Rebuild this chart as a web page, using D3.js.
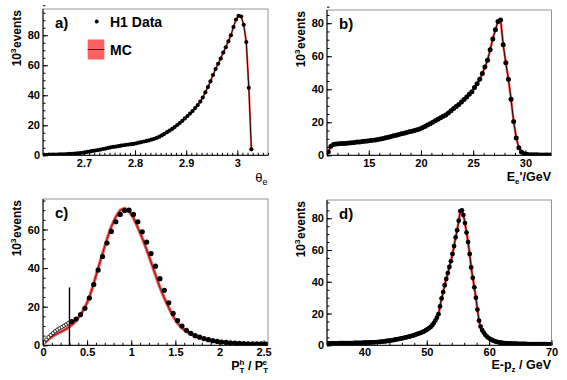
<!DOCTYPE html>
<html><head><meta charset="utf-8">
<script src="https://cdn.jsdelivr.net/npm/d3@7"></script>
<style>
body{margin:0;background:#fff}
svg{display:block;font-family:"Liberation Sans",Arial,Helvetica,sans-serif;font-weight:bold}
</style>
</head><body>
<svg id="chart" width="567" height="380"></svg>
<script>
// ---------------- DATA ----------------
// a) theta_e : bins of 0.005 starting at 2.62 (10^3 events)
const aBinStart = 2.62, aBinWidth = 0.005;
const aData = [0.3,0.3,0.4,0.4,0.5,0.5,0.6,0.6,0.7,0.8,0.9,1.0,1.1,1.3,1.5,1.7,
  2.0,2.3,2.6,2.9,3.2,3.5,3.8,4.2,4.5,4.9,
  5.3,5.6,5.8,6.1,6.4,6.7,7.0,7.2,7.4,7.6,
  8.0,8.4,8.8,9.2,9.6,10.0,10.5,11.0,11.6,12.4,
  13.3,14.3,15.4,16.5,17.6,18.8,20.2,21.5,23.0,24.6,
  26.2,27.8,29.5,31.5,33.5,35.8,38.5,42.0,45.5,49.3,
  53.5,57.5,61.0,64.5,68.5,72.0,76.0,80.0,85.5,90.5,
  93.0,92.5,87.0,75.5,45.0,4.0];
const aXTicks = [2.7,2.8,2.9,3], aXTickLabels = ["2.7","2.8","2.9","3"];
const aYTicks = [0,20,40,60,80];

// b) E_e' : bins of 0.25 GeV starting at 11
const bBinStart = 11, bBinWidth = 0.25;
const bData = [2.0,5.5,6.5,6.8,7.0,7.1,7.2,7.3,7.5,7.6,
  7.8,8.0,8.1,8.3,8.5,8.7,8.9,9.1,9.3,9.6,
  9.9,10.2,10.6,11.0,11.4,11.8,12.2,12.6,13.0,13.4,
  13.8,14.2,14.6,15.0,15.5,16.0,16.7,17.5,18.3,19.1,
  20.0,20.9,21.8,22.7,23.6,24.4,25.6,27.0,28.3,29.5,
  30.8,32.3,33.8,35.3,37.0,38.5,41.0,43.3,46.0,49.5,
  53.5,57.5,64.0,70.5,76.0,81.0,82.0,67.0,56.0,46.0,
  34.0,20.5,10.5,4.5,2.0,1.0,0.6,0.4,0.3,0.3,
  0.3,0.2,0.2,0.2,0.2,0.2];
const bXTicks = [15,20,25,30], bXTickLabels = ["15","20","25","30"];
const bYTicks = [0,20,40,60,80];

// c) PT^h / PT^e
const cOpenStart = 0, cOpenWidth = 0.025;          // excluded region (open markers)
const cOpenData = [1.5,3.0,4.2,5.3,6.3,7.3,8.1,8.8,9.4,10.1,10.8,11.5];
const cBinStart = 0.3, cBinWidth = 0.05;           // selected region (full markers)
const cData = [12.3,13.6,15.9,19.2,24.5,31.5,39.0,46.0,53.0,59.0,
  64.0,67.8,69.8,70.0,67.8,64.0,58.8,53.5,47.5,41.0,
  34.5,28.5,22.0,16.5,12.8,10.0,7.8,6.2,5.0,4.2,
  3.5,2.9,2.4,2.0,1.7,1.5,1.3,1.1,1.0,0.9,
  0.8,0.8,0.7,0.7,0.6];
const cMcStart = 0, cMcWidth = 0.05;
const cMc = [1.5,3.6,5.2,6.4,7.5,8.8,10.5,12.8,15.8,19.5,
  24.8,32.0,40.0,47.5,55.0,61.5,66.5,70.0,71.0,69.5,
  66.0,61.0,55.5,49.5,43.0,36.5,30.0,24.5,19.5,15.0,
  11.5,9.0,7.2,5.8,4.8,4.0,3.3,2.8,2.3,2.0,
  1.7,1.5,1.3,1.1,1.0,0.9,0.8,0.8,0.7,0.7,0.6];
const cCut = 0.3, cCutHeight = 30;
const cXTicks = [0,0.5,1,1.5,2,2.5], cXTickLabels = ["0","0.5","1","1.5","2","2.5"];
const cYTicks = [0,20,40,60];

// d) E - pz : bins of 0.25 GeV starting at 34
const dBinStart = 34, dBinWidth = 0.25;
const dData = [1.2,1.2,1.2,1.2,1.2,1.25,1.25,1.3,
  1.3,1.3,1.3,1.35,1.35,1.35,1.4,1.4,
  1.4,1.45,1.45,1.5,1.5,1.55,1.55,1.6,
  1.6,1.65,1.7,1.75,1.8,1.85,1.9,2.0,
  2.05,2.15,2.25,2.35,2.45,2.55,2.7,2.85,
  3.0,3.15,3.3,3.5,3.7,3.9,4.1,4.3,
  4.5,4.7,4.95,5.2,5.45,5.7,5.95,6.25,
  6.6,6.95,7.3,7.65,8.0,8.4,8.9,9.5,
  10.1,10.8,11.6,12.7,14.0,15.6,17.4,19.6,
  24.5,29.5,33.5,37.8,41.8,45.5,49.3,53.0,
  57.5,62.5,68.0,72.5,78.5,84.5,85.0,82.0,
  77.0,71.0,65.0,57.5,49.0,42.5,36.5,30.0,
  22.5,15.5,11.8,9.6,8.0,6.6,5.5,4.7,
  4.1,3.5,3.0,2.6,2.3,2.0,1.8,1.6,
  1.5,1.4,1.3,1.25,1.2,1.15,1.1,1.05,
  1.0,1.0,0.95,0.95,0.9,0.9,0.85,0.85,
  0.8,0.8,0.8,0.75,0.75,0.75,0.7,0.7,
  0.7,0.7,0.65,0.65,0.65,0.6,0.6,0.6];
const dXTicks = [40,50,60,70], dXTickLabels = ["40","50","60","70"];
const dYTicks = [0,20,40,60,80];

const legendLabels = ["H1 Data","MC"];
const panelLabels = ["a)","b)","c)","d)"];

// ---------------- DRAWING ----------------
const svg = d3.select("#chart");
const RED = "#ff5050";

function binned(values, start, width){
  return values.map((v,i)=>({x:start + width*(i+0.5), y:v}));
}
function stepRange(a,b,s){
  const n = Math.round((b-a)/s);
  const out=[]; for(let i=0;i<=n;i++) out.push(+(a+i*s).toFixed(6));
  return out;
}

function panel(cfg){
  const x = d3.scaleLinear().domain(cfg.xDomain).range([cfg.left,cfg.right]);
  const y = d3.scaleLinear().domain(cfg.yDomain).range([cfg.bottom,cfg.top]);
  const g = svg.append("g");
  const clipId = "clip"+cfg.id;
  g.append("clipPath").attr("id",clipId).append("rect")
    .attr("x",cfg.left).attr("y",cfg.top).attr("width",cfg.right-cfg.left).attr("height",cfg.bottom-cfg.top);
  const plot = g.append("g").attr("clip-path",`url(#${clipId})`);

  const line = d3.line().x(d=>x(d.x)).y(d=>y(d.y));
  // MC band and central line
  plot.append("path").datum(cfg.mc).attr("d",line).attr("fill","none")
    .attr("stroke",RED).attr("stroke-width",cfg.bandW).attr("stroke-linejoin","round");
  plot.append("path").datum(cfg.mc).attr("d",line).attr("fill","none")
    .attr("stroke","#000").attr("stroke-width",cfg.lineW).attr("stroke-linejoin","round");

  if(cfg.open){
    plot.selectAll("circle.o").data(cfg.open).join("circle").attr("class","o")
      .attr("cx",d=>x(d.x)).attr("cy",d=>y(d.y)).attr("r",1.7)
      .attr("fill","#fff").attr("stroke","#000").attr("stroke-width",0.8);
  }
  plot.selectAll("circle.p").data(cfg.data).join("circle").attr("class","p")
    .attr("cx",d=>x(d.x)).attr("cy",d=>y(d.y)).attr("r",cfg.r).attr("fill","#000");

  if(cfg.cut){
    g.append("line").attr("x1",x(cfg.cut[0])).attr("x2",x(cfg.cut[0]))
      .attr("y1",y(0)).attr("y2",y(cfg.cut[1])).attr("stroke","#000").attr("stroke-width",1.4);
  }

  // frame
  g.append("rect").attr("x",cfg.left).attr("y",cfg.top).attr("width",cfg.right-cfg.left)
    .attr("height",cfg.bottom-cfg.top).attr("fill","none").attr("stroke","#666").attr("stroke-width",0.7);

  // axes
  const style = s=>{ s.select(".domain").remove(); s.attr("font-family",null).attr("font-size",11).attr("font-weight","bold"); };
  const xMinor = stepRange(cfg.xDomain[0] - ((cfg.xDomain[0]%cfg.xMinor)+cfg.xMinor)%cfg.xMinor, cfg.xDomain[1], cfg.xMinor)
    .filter(v=>v>=cfg.xDomain[0] && v<=cfg.xDomain[1]);
  const yMinor = stepRange(0, cfg.yDomain[1], cfg.yMinor);
  g.append("g").attr("transform",`translate(0,${cfg.bottom})`)
    .call(d3.axisBottom(x).tickValues(xMinor).tickSize(-2.5).tickSizeOuter(0).tickFormat(""))
    .call(style);
  g.append("g").attr("transform",`translate(0,${cfg.bottom})`)
    .call(d3.axisBottom(x).tickValues(cfg.xTicks).tickSize(-5).tickSizeOuter(0).tickPadding(cfg.xPad)
      .tickFormat((d,i)=>cfg.xTickLabels[i]))
    .call(style);
  g.append("g").attr("transform",`translate(${cfg.left},0)`)
    .call(d3.axisLeft(y).tickValues(yMinor).tickSize(-2.5).tickSizeOuter(0).tickFormat(""))
    .call(style);
  g.append("g").attr("transform",`translate(${cfg.left},0)`)
    .call(d3.axisLeft(y).tickValues(cfg.yTicks).tickSize(-5).tickSizeOuter(0).tickPadding(3)
      .tickFormat(d3.format("d")))
    .call(style);
  // axis lines (left, bottom)
  g.append("line").attr("x1",cfg.left).attr("x2",cfg.left).attr("y1",cfg.top).attr("y2",cfg.bottom).attr("stroke","#000");
  g.append("line").attr("x1",cfg.left).attr("x2",cfg.right).attr("y1",cfg.bottom).attr("y2",cfg.bottom).attr("stroke","#000");

  // y title
  const t = g.append("text").attr("transform",`translate(${cfg.left-22},${cfg.top+1}) rotate(-90)`)
    .attr("text-anchor","end").attr("font-size",12);
  t.append("tspan").text("10");
  t.append("tspan").attr("dy",-5).attr("font-size",8).text("3");
  t.append("tspan").attr("dy",5).attr("dx",0.5).text("events");

  // panel label
  g.append("text").attr("x",cfg.left+12).attr("y",cfg.top+19).attr("font-size",15).text(cfg.label);

  // x title
  cfg.xTitle(g.append("text").attr("text-anchor","end").attr("x",cfg.right-0.5).attr("y",cfg.xTitleY));
  return {x,y,g};
}

const A = panel({id:"a", left:43, right:268, top:9, bottom:155.3, xDomain:[2.62,3.06], yDomain:[0,97.5],
  xMinor:0.01, yMinor:5, xTicks:aXTicks, xTickLabels:aXTickLabels, yTicks:aYTicks, xPad:4,
  data:binned(aData,aBinStart,aBinWidth), mc:binned(aData,aBinStart,aBinWidth), r:2.1, bandW:2, lineW:0.9,
  label:panelLabels[0], xTitleY:182,
  xTitle:t=>{ t.attr("font-size",13).attr("font-weight","normal");
    t.append("tspan").text("θ"); t.append("tspan").attr("dy",3).attr("font-size",9).text("e"); }});

const B = panel({id:"b", left:327, right:551.5, top:10, bottom:155.3, xDomain:[11,32.5], yDomain:[0,88],
  xMinor:1, yMinor:5, xTicks:bXTicks, xTickLabels:bXTickLabels, yTicks:bYTicks, xPad:3.5,
  data:binned(bData,bBinStart,bBinWidth), mc:binned(bData,bBinStart,bBinWidth), r:2.5, bandW:2.4, lineW:0.9,
  label:panelLabels[1], xTitleY:180.5,
  xTitle:t=>{ t.attr("font-size",12.5);
    t.append("tspan").text("E"); t.append("tspan").attr("dy",3).attr("font-size",8).text("e");
    t.append("tspan").attr("dy",-3).text("'/GeV"); }});

const C = panel({id:"c", left:43, right:268, top:199, bottom:345.3, xDomain:[0,2.55], yDomain:[0,75.8],
  xMinor:0.1, yMinor:5, xTicks:cXTicks, xTickLabels:cXTickLabels, yTicks:cYTicks, xPad:3,
  data:binned(cData,cBinStart,cBinWidth), open:binned(cOpenData,cOpenStart,cOpenWidth),
  mc:binned(cMc,cMcStart,cMcWidth), r:2.6, bandW:3.2, lineW:0.6, cut:[cCut,cCutHeight],
  label:panelLabels[2], xTitleY:369.5,
  xTitle:t=>{ t.attr("font-size",12.5);
    t.append("tspan").text("P"); t.append("tspan").attr("dy",3).attr("font-size",8).text("T");
    t.append("tspan").attr("dx",-4.9).attr("dy",-7.5).attr("font-size",8).text("h");
    t.append("tspan").attr("dy",4.5).text(" / P");
    t.append("tspan").attr("dy",3).attr("font-size",8).text("T");
    t.append("tspan").attr("dx",-4.9).attr("dy",-7.5).attr("font-size",8).text("e"); }});

const D = panel({id:"d", left:327, right:551.5, top:200, bottom:345.3, xDomain:[34,70], yDomain:[0,91.5],
  xMinor:2, yMinor:5, xTicks:dXTicks, xTickLabels:dXTickLabels, yTicks:dYTicks, xPad:3,
  data:binned(dData,dBinStart,dBinWidth), mc:binned(dData,dBinStart,dBinWidth), r:2.4, bandW:2.6, lineW:0.9,
  label:panelLabels[3], xTitleY:369,
  xTitle:t=>{ t.attr("font-size",12.5);
    t.append("tspan").text("E-p"); t.append("tspan").attr("dy",3).attr("font-size",8).text("z");
    t.append("tspan").attr("dy",-3).text(" / GeV"); }});

// legend in panel a
const lg = svg.append("g");
lg.append("circle").attr("cx",96.7).attr("cy",21.5).attr("r",2).attr("fill","#000");
lg.append("text").attr("x",110).attr("y",26.5).attr("font-size",14).text(legendLabels[0]);
lg.append("rect").attr("x",87.7).attr("y",39.5).attr("width",16.6).attr("height",20).attr("fill",RED).attr("opacity",0.9);
lg.append("line").attr("x1",87.7).attr("x2",104.3).attr("y1",49.5).attr("y2",49.5).attr("stroke","#600").attr("stroke-width",1);
lg.append("text").attr("x",110).attr("y",55).attr("font-size",14).text(legendLabels[1]);
</script>
</body></html>
